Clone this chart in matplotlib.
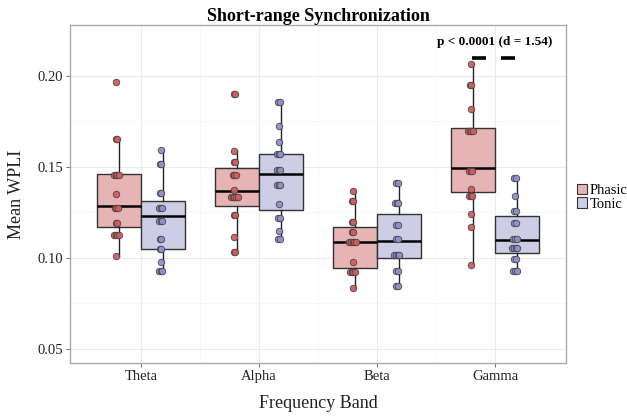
import matplotlib
matplotlib.use("Agg")
import matplotlib.pyplot as plt
from matplotlib.patches import Patch
import numpy as np

categories = ["Theta", "Alpha", "Beta", "Gamma"]
groups = ["Phasic", "Tonic"]

# raw points
phasic_points = [
    [0.1965, 0.1651, 0.1651, 0.1455, 0.1455, 0.1455, 0.1455, 0.1350, 0.1277, 0.1277,
     0.1277, 0.1194, 0.1194, 0.1126, 0.1126, 0.1126, 0.1126, 0.1009],
    [0.1901, 0.1901, 0.1589, 0.1528, 0.1528, 0.1455, 0.1455, 0.1455, 0.1372, 0.1337,
     0.1337, 0.1337, 0.1337, 0.1337, 0.1236, 0.1236, 0.1113, 0.1033, 0.1033],
    [0.1367, 0.1312, 0.1312, 0.1200, 0.1200, 0.1143, 0.1143, 0.1088, 0.1088, 0.1088,
     0.1088, 0.1088, 0.0977, 0.0922, 0.0922, 0.0922, 0.0922, 0.0833],
    [0.2064, 0.1950, 0.1950, 0.1817, 0.1695, 0.1695, 0.1695, 0.1695, 0.1479, 0.1479,
     0.1479, 0.1379, 0.1341, 0.1341, 0.1341, 0.1240, 0.1172, 0.0961],
]
tonic_points = [
    [0.1591, 0.1519, 0.1519, 0.1357, 0.1357, 0.1275, 0.1275, 0.1275, 0.1205, 0.1205,
     0.1205, 0.1102, 0.1102, 0.1047, 0.1047, 0.0977, 0.0928, 0.0928, 0.0928],
    [0.1859, 0.1859, 0.1723, 0.1637, 0.1570, 0.1570, 0.1570, 0.1481, 0.1481, 0.1481,
     0.1400, 0.1400, 0.1400, 0.1299, 0.1220, 0.1220, 0.1148, 0.1106, 0.1106],
    [0.1413, 0.1413, 0.1301, 0.1301, 0.1301, 0.1183, 0.1183, 0.1104, 0.1104, 0.1016,
     0.1016, 0.1016, 0.1016, 0.0928, 0.0928, 0.0844, 0.0844],
    [0.1440, 0.1440, 0.1341, 0.1257, 0.1257, 0.1192, 0.1192, 0.1104, 0.1104, 0.1104,
     0.1055, 0.1055, 0.1055, 0.1055, 0.0994, 0.0994, 0.0928, 0.0928, 0.0928],
]

# box statistics
phasic_q1 = [0.1170, 0.1284, 0.0946, 0.1363]
phasic_med = [0.1284, 0.1367, 0.1088, 0.1495]
phasic_q3 = [0.1459, 0.1492, 0.1170, 0.1714]
phasic_lo = [0.1009, 0.1033, 0.0833, 0.0961]
phasic_hi = [0.1651, 0.1589, 0.1367, 0.2064]
tonic_q1 = [0.1047, 0.1266, 0.0998, 0.1027]
tonic_med = [0.1231, 0.1464, 0.1091, 0.1097]
tonic_q3 = [0.1312, 0.1574, 0.1242, 0.1233]
tonic_lo = [0.0928, 0.1106, 0.0844, 0.0928]
tonic_hi = [0.1591, 0.1859, 0.1413, 0.1440]

y_ticks = [0.05, 0.10, 0.15, 0.20]
annot_text = "p < 0.0001 (d = 1.54)"
annot_y = 0.2101

plt.rcParams["font.family"] = ["Liberation Serif", "DejaVu Serif"]

fig = plt.figure(figsize=(6.27, 4.16), dpi=100)
ax = fig.add_axes([0.1116, 0.1274, 0.7911, 0.8125])

box_fill = {"Phasic": "#E6B4B4", "Tonic": "#CDCDE5"}
pt_fill = {"Phasic": "#D35C5C", "Tonic": "#8F90CC"}
edge = "#333333"
half = 0.1875
width = 0.375

x_base = np.arange(1, len(categories) + 1)

for g, q1, med, q3, lo, hi, pts, sign in [
    ("Phasic", phasic_q1, phasic_med, phasic_q3, phasic_lo, phasic_hi, phasic_points, -1),
    ("Tonic", tonic_q1, tonic_med, tonic_q3, tonic_lo, tonic_hi, tonic_points, 1),
]:
    stats = []
    for i in range(len(categories)):
        stats.append(dict(q1=q1[i], med=med[i], q3=q3[i], whislo=lo[i], whishi=hi[i], fliers=[]))
    pos = x_base + sign * half
    ax.bxp(stats, positions=pos, widths=width, showfliers=False, showcaps=False,
           patch_artist=True, manage_ticks=False,
           boxprops=dict(facecolor=box_fill[g], edgecolor=edge, linewidth=1.0),
           whiskerprops=dict(color="#222222", linewidth=1.0),
           medianprops=dict(color="black", linewidth=1.8), zorder=2)
    for i, vals in enumerate(pts):
        vals = np.array(vals)
        xs = np.zeros_like(vals)
        for v in np.unique(vals):
            idx = np.where(vals == v)[0]
            n = len(idx)
            xs[idx] = (np.arange(n) - (n - 1) / 2) * 0.014
        ax.scatter(pos[i] - 0.02 + xs, vals, s=22, facecolor=pt_fill[g], edgecolor="#444444",
                   linewidth=0.6, zorder=3, alpha=0.95)

# significance marks
ax.plot([3.80, 3.92], [annot_y, annot_y], color="black", lw=2.6, solid_capstyle="butt", zorder=4)
ax.plot([4.05, 4.17], [annot_y, annot_y], color="black", lw=2.6, solid_capstyle="butt", zorder=4)
ax.text(4.0, 0.2187, annot_text, ha="center", va="center", fontsize=9.5, fontweight="bold")

ax.set_xlim(0.4, 4.6)
ax.set_ylim(0.0423, 0.228)
ax.set_xticks(x_base)
ax.set_xticklabels(categories, fontsize=10.5)
ax.set_yticks(y_ticks)
ax.set_yticklabels([f"{v:.2f}" for v in y_ticks], fontsize=10.5)
ax.set_yticks([0.075, 0.125, 0.175, 0.225], minor=True)
ax.set_xticks([1.5, 2.5, 3.5], minor=True)
ax.grid(True, which="major", color="#EBEBEB", lw=0.8, zorder=0)
ax.grid(True, which="minor", color="#F4F4F4", lw=0.5, zorder=0)
ax.set_axisbelow(True)
ax.tick_params(which="major", length=3, color="#777777", width=0.8, labelcolor="#222222", pad=2)
ax.tick_params(which="minor", length=0)
for s in ax.spines.values():
    s.set_color("#AAAAAA")
    s.set_linewidth(1.0)

ax.set_xlabel("Frequency Band", fontsize=13, labelpad=9, color="#222222")
ax.set_ylabel("Mean WPLI", fontsize=13, labelpad=9, color="#222222")
ax.set_title("Short-range Synchronization", fontsize=13, fontweight="bold", pad=3)

handles = [Patch(facecolor=box_fill[g], edgecolor=edge, linewidth=0.8, label=g) for g in groups]
ax.legend(handles=handles, loc="center left", bbox_to_anchor=(1.012, 0.49), frameon=False,
          fontsize=10.5, handlelength=0.7, handleheight=0.7, handletextpad=0.15,
          labelspacing=0.0, borderaxespad=0.15, borderpad=0.2)

fig.savefig("out.png", dpi=100)
